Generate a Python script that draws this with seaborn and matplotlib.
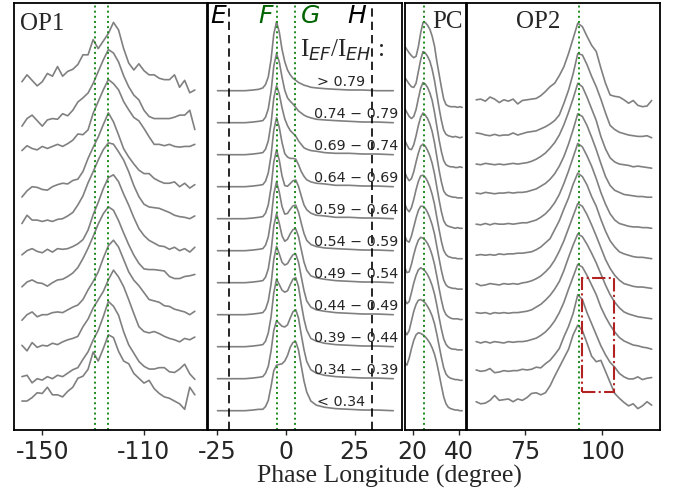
import numpy as np
import pandas as pd
import matplotlib
matplotlib.use("Agg")
import matplotlib.pyplot as plt
from matplotlib.patches import Rectangle
import seaborn as sns

# ---------------- data ----------------
# rows are ordered top -> bottom, flux in units of the peak of the main profile

OP1_LON = np.arange(-158, -89, 2)
OP1_PROFILES = [
    [0.13, 0.23, 0.15, 0.07, 0.13, 0.25, 0.21, 0.35, 0.21, 0.28, 0.31, 0.38, 0.52, 0.52, 0.74, 0.61, 0.72, 0.83,
     0.99, 0.88, 0.61, 0.40, 0.30, 0.39, 0.29, 0.23, 0.23, 0.18, 0.16, 0.16, 0.23, 0.05, 0.15, -0.03, 0.01],
    [-0.05, 0.06, 0.11, 0.03, -0.05, 0.04, 0.06, 0.05, 0.13, 0.10, 0.18, 0.30, 0.36, 0.43, 0.57, 0.74, 0.91, 1.06,
     1.01, 0.88, 0.68, 0.52, 0.40, 0.33, 0.18, 0.09, 0.06, 0.06, 0.06, 0.06, 0.08, 0.11, 0.11, 0.18, -0.10],
    [0.06, 0.13, 0.09, 0.07, 0.12, 0.09, 0.12, 0.15, 0.12, 0.16, 0.21, 0.30, 0.29, 0.36, 0.60, 0.77, 0.94, 1.09,
     1.03, 0.94, 0.77, 0.65, 0.54, 0.49, 0.38, 0.26, 0.15, 0.15, 0.13, 0.15, 0.12, 0.11, 0.12, 0.12, 0.15],
    [-0.15, -0.06, 0.00, -0.01, -0.04, -0.05, 0.00, 0.03, 0.05, 0.04, 0.09, 0.11, 0.22, 0.41, 0.57, 0.72, 0.90, 1.07,
     0.94, 0.75, 0.55, 0.43, 0.33, 0.24, 0.19, 0.19, 0.12, 0.08, 0.05, 0.05, 0.07, 0.00, 0.05, -0.02, 0.03],
    [-0.07, 0.05, -0.02, -0.02, -0.04, -0.02, -0.04, -0.01, 0.00, 0.04, 0.09, 0.20, 0.33, 0.52, 0.68, 0.85, 1.00, 1.10,
     1.08, 0.97, 0.85, 0.68, 0.48, 0.32, 0.21, 0.17, 0.16, 0.15, 0.12, 0.09, 0.05, 0.03, 0.02, 0.00, 0.04],
    [-0.06, 0.00, 0.03, -0.01, -0.03, 0.02, -0.02, 0.03, 0.02, 0.03, 0.06, 0.10, 0.16, 0.30, 0.52, 0.70, 0.90, 1.06,
     1.10, 1.00, 0.82, 0.66, 0.48, 0.32, 0.22, 0.15, 0.11, 0.07, 0.06, 0.02, 0.05, 0.00, 0.03, -0.02, 0.05],
    [-0.06, 0.01, 0.04, 0.00, -0.01, -0.05, 0.00, 0.04, 0.05, 0.09, 0.14, 0.22, 0.35, 0.50, 0.67, 0.85, 1.00, 1.10,
     1.05, 0.90, 0.72, 0.55, 0.40, 0.28, 0.20, 0.19, 0.19, 0.18, 0.17, 0.09, 0.06, 0.06, 0.09, 0.10, 0.12],
    [-0.08, 0.00, 0.04, -0.03, 0.00, 0.00, 0.03, 0.04, 0.03, 0.07, 0.11, 0.14, 0.22, 0.36, 0.48, 0.62, 0.82, 1.00,
     1.08, 0.98, 0.80, 0.62, 0.50, 0.42, 0.32, 0.22, 0.20, 0.18, 0.13, 0.12, 0.08, 0.06, 0.04, 0.00, 0.05],
    [0.02, -0.06, 0.06, -0.01, 0.02, 0.01, 0.05, 0.03, 0.07, 0.10, 0.12, 0.15, 0.29, 0.40, 0.56, 0.68, 0.80, 0.97,
     1.11, 1.01, 0.87, 0.68, 0.48, 0.29, 0.22, 0.20, 0.22, 0.19, 0.15, 0.12, 0.10, 0.07, 0.12, 0.10, 0.14],
    [0.03, 0.05, -0.06, 0.00, -0.02, 0.03, 0.00, 0.05, 0.03, 0.08, 0.13, 0.16, 0.28, 0.39, 0.56, 0.70, 0.90, 1.12,
     1.05, 0.92, 0.68, 0.49, 0.37, 0.25, 0.18, 0.14, 0.14, 0.16, 0.16, 0.10, 0.09, 0.14, 0.21, 0.07, -0.01],
    [0.14, 0.14, 0.19, 0.26, 0.25, 0.34, 0.23, 0.23, 0.20, 0.28, 0.34, 0.47, 0.50, 0.60, 0.85, 0.72, 0.90, 1.10,
     1.06, 0.86, 0.72, 0.68, 0.54, 0.47, 0.40, 0.44, 0.32, 0.25, 0.20, 0.18, 0.14, 0.10, 0.02, 0.34, 0.23],
]

MAIN_LON = [-25, -20, -15, -12, -10, -8.5, -7.5, -6.5, -5.5, -4.5, -3.5, -2.5, -1.5, -0.5, 0.5,
            1.5, 2.5, 3.5, 4.5, 5.5, 6.5, 7.5, 9, 11, 14, 18, 23, 28, 33, 39]
MAIN_PROFILES = [
    [0, 0, 0, 0.01, 0.02, 0.04, 0.09, 0.20, 0.45, 0.82, 1.00, 0.85, 0.60, 0.42, 0.30,
     0.23, 0.18, 0.15, 0.12, 0.10, 0.08, 0.07, 0.05, 0.04, 0.03, 0.02, 0.01, 0.01, 0, 0],
    [0, 0, 0, 0.01, 0.02, 0.03, 0.08, 0.20, 0.45, 0.82, 1.00, 0.88, 0.66, 0.47, 0.36,
     0.31, 0.27, 0.22, 0.17, 0.14, 0.11, 0.09, 0.07, 0.05, 0.04, 0.03, 0.02, 0.01, 0.01, 0],
    [0, 0, 0, 0.01, 0.02, 0.03, 0.08, 0.20, 0.45, 0.82, 1.00, 0.88, 0.68, 0.52, 0.42,
     0.35, 0.31, 0.27, 0.20, 0.15, 0.10, 0.08, 0.06, 0.05, 0.03, 0.02, 0.02, 0.01, 0.01, 0],
    [0, 0, 0, 0.01, 0.02, 0.03, 0.08, 0.20, 0.45, 0.82, 1.00, 0.86, 0.64, 0.48, 0.43,
     0.41, 0.41, 0.40, 0.32, 0.22, 0.15, 0.10, 0.07, 0.05, 0.04, 0.02, 0.02, 0.01, 0.01, 0],
    [0, 0, 0, 0.01, 0.02, 0.03, 0.08, 0.20, 0.45, 0.82, 1.00, 0.85, 0.62, 0.48, 0.47,
     0.51, 0.55, 0.56, 0.47, 0.33, 0.20, 0.13, 0.08, 0.05, 0.04, 0.02, 0.02, 0.01, 0.01, 0],
    [0, 0, 0, 0.01, 0.02, 0.03, 0.08, 0.20, 0.45, 0.82, 1.00, 0.85, 0.64, 0.53, 0.54,
     0.60, 0.65, 0.66, 0.56, 0.40, 0.25, 0.15, 0.09, 0.06, 0.04, 0.03, 0.02, 0.01, 0.01, 0],
    [0, 0, 0, 0.01, 0.02, 0.03, 0.08, 0.20, 0.45, 0.82, 1.00, 0.86, 0.68, 0.60, 0.63,
     0.71, 0.77, 0.78, 0.67, 0.48, 0.30, 0.18, 0.10, 0.07, 0.05, 0.03, 0.02, 0.01, 0.01, 0],
    [0, 0, 0, 0.01, 0.02, 0.03, 0.08, 0.20, 0.44, 0.80, 0.99, 0.88, 0.76, 0.72, 0.74,
     0.81, 0.87, 0.88, 0.76, 0.55, 0.35, 0.20, 0.11, 0.07, 0.05, 0.03, 0.02, 0.01, 0.01, 0],
    [0, 0, 0, 0.01, 0.02, 0.03, 0.08, 0.20, 0.43, 0.78, 0.98, 0.90, 0.82, 0.79, 0.81,
     0.90, 0.98, 1.00, 0.87, 0.62, 0.40, 0.24, 0.12, 0.08, 0.05, 0.03, 0.02, 0.01, 0.01, 0],
    [0, 0, 0, 0.01, 0.02, 0.03, 0.08, 0.18, 0.40, 0.70, 0.84, 0.80, 0.76, 0.75, 0.78,
     0.88, 0.97, 1.00, 0.88, 0.64, 0.42, 0.25, 0.13, 0.08, 0.05, 0.03, 0.02, 0.01, 0.01, 0],
    [0, 0, 0, 0.01, 0.02, 0.02, 0.06, 0.15, 0.35, 0.58, 0.66, 0.67, 0.68, 0.72, 0.80,
     0.92, 0.99, 1.00, 0.88, 0.65, 0.43, 0.27, 0.14, 0.08, 0.05, 0.03, 0.02, 0.01, 0.01, 0],
]
RATIO_LABELS = ["> 0.79", "0.74 \u2212 0.79", "0.69 \u2212 0.74", "0.64 \u2212 0.69", "0.59 \u2212 0.64",
                "0.54 \u2212 0.59", "0.49 \u2212 0.54", "0.44 \u2212 0.49", "0.39 \u2212 0.44",
                "0.34 \u2212 0.39", "< 0.34"]

PC_LON = np.arange(16.5, 42, 1.0)
PC_PROFILES = [
    [0.88, 0.83, 0.78, 0.74, 0.71, 0.73, 0.87, 1.07, 1.22, 1.22, 1.18, 1.12, 1.02, 0.88, 0.66, 0.47, 0.28,
     0.11, 0.03, 0.01, 0.00, 0.00, 0.00, -0.01, 0.00, -0.01],
    [0.87, 0.82, 0.77, 0.73, 0.72, 0.78, 0.95, 1.12, 1.24, 1.22, 1.17, 1.10, 0.98, 0.82, 0.62, 0.42, 0.24,
     0.10, 0.04, 0.02, 0.01, 0.00, 0.01, 0.00, -0.01, 0.00],
    [0.86, 0.80, 0.74, 0.71, 0.74, 0.84, 1.00, 1.15, 1.23, 1.21, 1.16, 1.08, 0.97, 0.80, 0.60, 0.40, 0.23,
     0.10, 0.04, 0.02, 0.01, 0.01, 0.00, 0.00, 0.01, 0.00],
    [0.84, 0.77, 0.71, 0.70, 0.77, 0.90, 1.05, 1.17, 1.23, 1.20, 1.15, 1.07, 0.96, 0.80, 0.60, 0.40, 0.23,
     0.10, 0.05, 0.03, 0.02, 0.01, 0.01, 0.00, 0.00, 0.00],
    [0.82, 0.74, 0.69, 0.72, 0.82, 0.96, 1.09, 1.19, 1.22, 1.19, 1.13, 1.05, 0.94, 0.79, 0.60, 0.41, 0.24,
     0.11, 0.05, 0.03, 0.02, 0.01, 0.00, 0.01, 0.00, 0.00],
    [0.80, 0.72, 0.68, 0.74, 0.86, 1.00, 1.12, 1.20, 1.21, 1.18, 1.12, 1.04, 0.93, 0.79, 0.60, 0.42, 0.25,
     0.12, 0.06, 0.03, 0.02, 0.01, 0.01, 0.00, 0.00, 0.00],
    [0.78, 0.70, 0.68, 0.77, 0.90, 1.03, 1.14, 1.20, 1.20, 1.17, 1.11, 1.03, 0.93, 0.80, 0.62, 0.44, 0.27,
     0.13, 0.06, 0.03, 0.02, 0.01, 0.01, 0.00, 0.00, 0.00],
    [0.76, 0.68, 0.69, 0.80, 0.94, 1.06, 1.15, 1.19, 1.18, 1.15, 1.10, 1.03, 0.93, 0.80, 0.63, 0.45, 0.28,
     0.14, 0.07, 0.04, 0.02, 0.01, 0.01, 0.01, 0.00, 0.00],
    [0.74, 0.67, 0.70, 0.83, 0.97, 1.08, 1.16, 1.19, 1.17, 1.14, 1.09, 1.02, 0.93, 0.81, 0.65, 0.47, 0.30,
     0.16, 0.08, 0.04, 0.02, 0.01, 0.01, 0.00, 0.00, 0.00],
    [0.72, 0.66, 0.72, 0.86, 1.00, 1.10, 1.16, 1.17, 1.15, 1.12, 1.07, 1.01, 0.93, 0.82, 0.67, 0.50, 0.33,
     0.18, 0.09, 0.05, 0.03, 0.02, 0.01, 0.01, 0.00, 0.00],
    [0.70, 0.66, 0.76, 0.90, 1.02, 1.10, 1.13, 1.12, 1.10, 1.07, 1.03, 0.98, 0.91, 0.82, 0.69, 0.53, 0.36,
     0.20, 0.10, 0.05, 0.03, 0.02, 0.01, 0.01, 0.00, 0.00],
]

OP2_LON = np.arange(59, 116.1, 1.5)
OP2_PROFILES = [
    [0.10, 0.11, 0.08, 0.14, 0.11, 0.06, 0.10, 0.08, 0.11, 0.04, 0.09, 0.10, 0.11, 0.12, 0.16, 0.22, 0.29, 0.34,
     0.45, 0.58, 0.77, 0.99, 1.21, 1.16, 1.02, 0.89, 0.80, 0.56, 0.34, 0.17, 0.15, 0.14, 0.10, 0.05, 0.09, 0.02,
     0.00, 0.01, 0.09],
    [0.06, 0.05, 0.03, 0.02, 0.04, 0.02, 0.03, 0.03, 0.06, 0.03, 0.05, 0.07, 0.08, 0.09, 0.12, 0.15, 0.19, 0.24,
     0.32, 0.49, 0.68, 0.92, 1.21, 1.19, 1.05, 0.88, 0.73, 0.55, 0.35, 0.17, 0.11, 0.07, 0.05, 0.03, 0.02, 0.01,
     0.01, 0.02, -0.01],
    [0.05, 0.04, 0.06, 0.05, 0.04, 0.05, 0.04, 0.05, 0.06, 0.05, 0.06, 0.07, 0.09, 0.12, 0.16, 0.21, 0.28, 0.36,
     0.47, 0.62, 0.80, 1.00, 1.22, 1.17, 1.02, 0.85, 0.68, 0.45, 0.27, 0.14, 0.08, 0.05, 0.04, 0.03, 0.01, 0.02,
     0.01, 0.00, -0.01],
    [0.07, 0.06, 0.08, 0.07, 0.06, 0.07, 0.07, 0.08, 0.07, 0.08, 0.08, 0.09, 0.11, 0.13, 0.17, 0.21, 0.27, 0.35,
     0.46, 0.60, 0.78, 0.99, 1.22, 1.18, 1.05, 0.88, 0.70, 0.50, 0.31, 0.18, 0.11, 0.08, 0.05, 0.04, 0.03, 0.02,
     0.02, 0.01, 0.01],
    [0.06, 0.05, 0.07, 0.05, 0.07, 0.06, 0.06, 0.07, 0.06, 0.07, 0.08, 0.08, 0.10, 0.12, 0.16, 0.21, 0.28, 0.37,
     0.49, 0.65, 0.83, 1.03, 1.23, 1.18, 1.05, 0.90, 0.72, 0.52, 0.35, 0.21, 0.12, 0.07, 0.05, 0.03, 0.02, 0.02,
     0.01, 0.01, 0.00],
    [0.05, 0.06, 0.05, 0.06, 0.05, 0.07, 0.06, 0.07, 0.07, 0.08, 0.08, 0.09, 0.10, 0.13, 0.17, 0.23, 0.29, 0.42,
     0.55, 0.72, 0.88, 1.08, 1.24, 1.19, 1.07, 0.90, 0.76, 0.57, 0.40, 0.26, 0.17, 0.10, 0.07, 0.05, 0.03, 0.02,
     0.02, 0.01, 0.00],
    [0.08, 0.05, 0.06, 0.08, 0.07, 0.06, 0.08, 0.07, 0.08, 0.07, 0.09, 0.10, 0.12, 0.15, 0.19, 0.25, 0.32, 0.42,
     0.55, 0.70, 0.88, 1.06, 1.24, 1.20, 1.08, 0.93, 0.77, 0.60, 0.43, 0.30, 0.20, 0.13, 0.08, 0.06, 0.04, 0.03,
     0.03, 0.02, 0.01],
    [0.10, 0.09, 0.10, 0.08, 0.10, 0.09, 0.10, 0.09, 0.10, 0.10, 0.11, 0.12, 0.14, 0.18, 0.22, 0.28, 0.35, 0.44,
     0.55, 0.71, 0.90, 1.08, 1.24, 1.20, 1.09, 0.96, 0.82, 0.66, 0.50, 0.36, 0.25, 0.17, 0.11, 0.08, 0.06, 0.04,
     0.03, 0.02, 0.01],
    [0.12, 0.10, 0.12, 0.10, 0.12, 0.11, 0.10, 0.12, 0.11, 0.12, 0.12, 0.13, 0.15, 0.17, 0.21, 0.26, 0.33, 0.42,
     0.54, 0.69, 0.88, 1.06, 1.24, 1.20, 1.08, 0.94, 0.80, 0.62, 0.48, 0.36, 0.26, 0.18, 0.13, 0.10, 0.07, 0.06,
     0.04, 0.03, 0.01],
    [0.15, 0.13, 0.14, 0.17, 0.11, 0.12, 0.14, 0.13, 0.14, 0.14, 0.16, 0.15, 0.16, 0.19, 0.18, 0.24, 0.29, 0.37,
     0.46, 0.63, 0.78, 0.97, 1.24, 1.17, 0.98, 0.82, 0.66, 0.50, 0.37, 0.26, 0.19, 0.10, 0.05, 0.02, 0.02, 0.05,
     0.01, 0.03, 0.04],
    [0.13, 0.10, 0.11, 0.15, 0.22, 0.15, 0.16, 0.17, 0.13, 0.17, 0.15, 0.19, 0.25, 0.26, 0.23, 0.26, 0.36, 0.50,
     0.63, 0.76, 0.89, 1.10, 1.24, 1.16, 0.98, 0.79, 0.71, 0.73, 0.57, 0.41, 0.25, 0.18, 0.12, 0.07, 0.10, 0.03,
     0.07, 0.13, 0.08],
]

# ---------------- layout ----------------
W, H = 676, 493
PX = 69.0                      # pixels per unit flux
STEP_A = 32.0 / PX             # OP1 / main offsets
STEP_B = 30.4 / PX             # PC / OP2 offsets
YLIM = ((410.7 - 430) / PX, (410.7 - 3) / PX)

sns.set_style("ticks")
plt.rcParams["font.family"] = ["DejaVu Sans"]
plt.rcParams["axes.unicode_minus"] = False
plt.rcParams["mathtext.fontset"] = "dejavusans"

fig = plt.figure(figsize=(W / 100, H / 100), dpi=100)


def box(x0, x1):
    return [x0 / W, 1 - 430 / H, (x1 - x0) / W, 427 / H]


def draw(ax, lon, profiles, step):
    rows = []
    for i, prof in enumerate(profiles):
        off = (len(profiles) - 1 - i) * step
        rows.append(pd.DataFrame({"lon": lon, "flux": np.array(prof) + off, "row": i}))
    df = pd.concat(rows, ignore_index=True)
    sns.lineplot(data=df, x="lon", y="flux", units="row", estimator=None,
                 color="#808080", lw=1.2, ax=ax, legend=False)
    ax.set_ylim(*YLIM)
    ax.set_yticks([])
    ax.set_xlabel("")
    ax.set_ylabel("")
    for s in ax.spines.values():
        s.set_linewidth(1.3)
        s.set_color("black")
    ax.tick_params(axis="x", labelsize=17, length=3.5, width=1, pad=4, direction="out")


ax1 = fig.add_axes(box(14.3, 206.8))
ax2 = fig.add_axes(box(207.6, 402.3))
ax3 = fig.add_axes(box(405.0, 466.3))
ax4 = fig.add_axes(box(467.2, 660))

draw(ax1, OP1_LON, OP1_PROFILES, STEP_A)
draw(ax2, MAIN_LON, MAIN_PROFILES, STEP_A)
draw(ax3, PC_LON, PC_PROFILES, STEP_B)
draw(ax4, OP2_LON, OP2_PROFILES, STEP_B)

ax1.set_xlim(-161, -85.3)
ax1.set_xticks([-150, -110])
ax2.set_xlim(-28.6, 42.3)
ax2.set_xticks([-25, 0, 25])
ax3.set_xlim(16.7, 43.3)
ax3.set_xticks([20, 40])
ax4.set_xlim(56.1, 118.7)
ax4.set_xticks([75, 100])

green = "#1a8a1a"
for x in (-129.2, -124.2):
    ax1.axvline(x, color=green, ls=":", lw=1.4)
for x in (-3.3, 3.2):
    ax2.axvline(x, color=green, ls=":", lw=1.4)
for x in (-20.7, 31.2):
    ax2.axvline(x, color="black", ls=(0, (5, 3)), lw=1.2)
ax3.axvline(24.9, color=green, ls=":", lw=1.4)
ax4.axvline(92.3, color=green, ls=":", lw=1.4)

ax4.add_patch(Rectangle((93.4, 0.27), 10.5, 1.66, fill=False, ec="#b22222",
                        ls="-.", lw=1.5, zorder=5))

# ratio labels next to each main-panel profile
for i, lab in enumerate(RATIO_LABELS):
    off = (len(RATIO_LABELS) - 1 - i) * STEP_A
    x = 11.2 if lab[0] in "<>" else 10.3
    ax2.text(x, off + 0.07, lab, fontsize=10.3, va="baseline", ha="left")

serif = ["Liberation Serif", "DejaVu Serif"]
fig.text(20 / W, 1 - 30 / H, "OP1", family=serif, fontsize=18, va="baseline")
fig.text(432 / W, 1 - 28.5 / H, "PC", family=serif, fontsize=18, va="baseline")
fig.text(516 / W, 1 - 28.5 / H, "OP2", family=serif, fontsize=18, va="baseline")

for lab, xc, col in (("E", 218, "black"), ("F", 266, "darkgreen"),
                     ("G", 311, "darkgreen"), ("H", 357, "black")):
    fig.text(xc / W, 1 - 23 / H, lab, fontsize=18, style="italic", color=col,
             ha="center", va="baseline")

fig.text(300 / W, 1 - 56.5 / H, r"I$_{EF}$/I$_{EH}$ :", family=serif, fontsize=18, va="baseline")

fig.text(389.5 / W, 1 - 483 / H, "Phase Longitude (degree)", family=serif,
         fontsize=18.5, ha="center", va="baseline")

fig.savefig("out.png", dpi=100)
